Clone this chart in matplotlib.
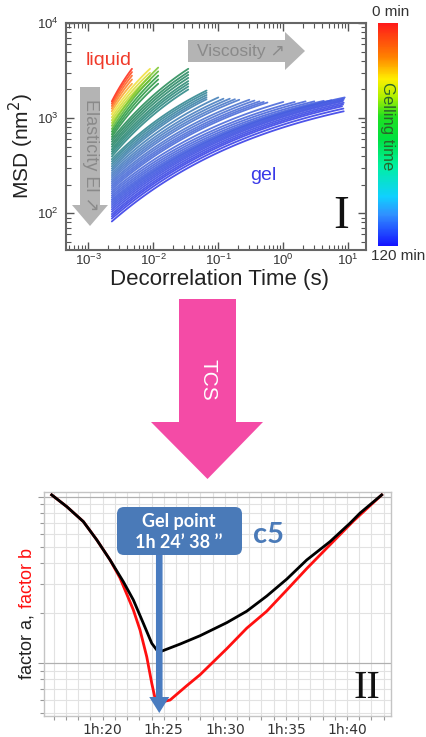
import numpy as np
import matplotlib
matplotlib.use('Agg')
import matplotlib.pyplot as plt
from matplotlib.colors import LinearSegmentedColormap, Normalize
from matplotlib.cm import ScalarMappable
from matplotlib.patches import Polygon, FancyBboxPatch
from matplotlib.ticker import LogLocator, NullFormatter, FixedLocator, FixedFormatter

plt.rcParams['font.family'] = ['Liberation Sans', 'DejaVu Sans']

# ---------------- Panel I data (MSD curves) ----------------
gel_time = [0, 2, 4, 6, 8,
            11, 13, 15, 17,
            20, 22, 24, 26, 28,
            31, 33, 35, 37, 39, 41, 43, 45,
            48, 50, 52, 54, 56,
            58, 60, 62, 64, 66,
            68, 70, 72, 74, 76,
            79, 82, 85, 88, 91, 94,
            97, 100, 103, 106, 109, 112, 115, 118, 120]
start_lag = 0.0023
start_msd = [1500, 1420, 1340, 1260, 1180,
             1100, 1020, 950, 890,
             830, 770, 720, 675, 635,
             600, 565, 530, 500, 470, 445, 420, 395,
             370, 350, 330, 312, 295,
             280, 265, 252, 240, 228,
             217, 207, 197, 188, 179,
             170, 162, 154, 147, 140, 134,
             128, 122, 116, 110, 104, 98, 93, 88, 82]
end_lag = [0.0047] * 5 + [0.0089] * 4 + [0.0119] * 5 + [0.0345] * 8 + [0.066] * 5 + \
          [0.10, 0.12, 0.15, 0.18, 0.21] + [0.30, 0.36, 0.43, 0.50, 0.57] + \
          [1.0, 1.5, 2.2, 3.0, 4.2, 5.5] + [8.8, 8.6, 8.4, 8.2, 8.5, 8.3, 8.0, 8.4, 8.5]
end_msd = [3300, 3050, 2800, 2550, 2300,
           3300, 3000, 2750, 2500,
           3400, 3100, 2800, 2550, 2300,
           3300, 3050, 2850, 2650, 2450, 2300, 2150, 2000,
           1950, 1850, 1750, 1660, 1580,
           1650, 1600, 1600, 1580, 1560,
           1560, 1530, 1500, 1480, 1460,
           1480, 1480, 1500, 1500, 1520, 1540,
           1650, 1600, 1550, 1500, 1450, 1390, 1330, 1260, 1180]

# ---------------- Panel II data ----------------
time_a = [75.83, 77.06, 78.42, 79.52, 80.61, 81.69, 82.51, 83.33, 84.02, 84.43, 84.70,
          86.33, 87.97, 90.16, 91.79, 93.43, 95.07, 96.70, 98.61, 100.25, 101.06, 102.84]
factor_a = [10.28, 8.74, 7.10, 5.51, 4.17, 3.09, 2.40, 1.734, 1.314, 1.198, 1.169,
            1.30, 1.46, 1.75, 2.05, 2.53, 3.20, 4.17, 5.38, 6.95, 7.98, 10.28]
time_b = [75.83, 77.06, 78.42, 79.52, 80.61, 81.42, 82.51, 83.06, 83.61, 84.02, 84.29, 84.45,
          85.52, 86.88, 87.97, 90.16, 91.79, 93.43, 95.07, 96.70, 98.61, 100.52, 102.84]
factor_b = [10.28, 8.74, 7.10, 5.51, 4.17, 3.25, 2.09, 1.58, 1.09, 0.755, 0.613, 0.574,
            0.599, 0.73, 0.85, 1.22, 1.62, 2.05, 2.75, 3.70, 5.15, 7.15, 10.28]
gel_point = 60 + 24 + 38 / 60.0  # 1h 24' 38''
x_ticks = [80, 85, 90, 95, 100]
x_tick_labels = ['1h:20', '1h:25', '1h:30', '1h:35', '1h:40']

W, H = 426, 737
fig = plt.figure(figsize=(W / 100, H / 100), dpi=100)


def rect(l, t, r, b):
    return [l / W, 1 - b / H, (r - l) / W, (b - t) / H]


# colormaps
curve_cmap = LinearSegmentedColormap.from_list('curves', [
    (0.0, '#ff3020'), (0.05, '#ff8a30'), (0.09, '#f0e040'), (0.15, '#a0d830'),
    (0.2, '#30a040'), (0.27, '#2a8a60'), (0.38, '#2f8a88'), (0.5, '#4a80c0'),
    (0.6, '#4f70d8'), (0.8, '#4660e0'), (1.0, '#3a40e8')])
bar_cmap = LinearSegmentedColormap.from_list('bar', [
    (0.0, '#ff1a1a'), (0.15, '#ff8000'), (0.25, '#ffee00'), (0.33, '#b0f000'),
    (0.42, '#20e020'), (0.52, '#00e040'), (0.64, '#00f0a0'), (0.78, '#10d0ff'),
    (0.86, '#3090ff'), (1.0, '#1414ff')])

# ---------------- Panel I ----------------
ax1 = fig.add_axes(rect(66, 23, 366, 250))
ax1.set_xscale('log')
ax1.set_yscale('log')
for t, m0, te, me in zip(gel_time, start_msd, end_lag, end_msd):
    ue = np.log10(te / start_lag)
    k = 0.3 + 0.3 * ue
    u = np.linspace(0, ue, 80)
    g = (1 - np.exp(-k * u / ue)) / (1 - np.exp(-k))
    y = np.log10(m0) + (np.log10(me) - np.log10(m0)) * g
    ax1.plot(start_lag * 10 ** u, 10 ** y, color=curve_cmap(t / 120.0), lw=1.3,
             alpha=0.9, solid_capstyle='round')
ax1.set_xlim(10 ** -3.343, 10 ** 1.272)
ax1.set_ylim(10 ** 1.614, 10 ** 4.0)
ax1.xaxis.set_major_locator(LogLocator(base=10, numticks=10))
ax1.xaxis.set_minor_locator(LogLocator(base=10, subs=np.arange(2, 10), numticks=20))
ax1.yaxis.set_major_locator(LogLocator(base=10, numticks=10))
ax1.yaxis.set_minor_locator(LogLocator(base=10, subs=np.arange(2, 10), numticks=20))
ax1.xaxis.set_minor_formatter(NullFormatter())
ax1.yaxis.set_minor_formatter(NullFormatter())
ax1.tick_params(which='both', direction='in', top=True, right=True, colors='#555555',
                labelcolor='#333333', labelsize=9.5)
ax1.tick_params(which='major', length=6, width=1.0)
ax1.tick_params(axis='x', which='major', pad=2)
ax1.tick_params(axis='y', which='major', pad=5)
ax1.tick_params(which='minor', length=3.5, width=0.8)
for s in ax1.spines.values():
    s.set_color('#666666')
    s.set_linewidth(1.5)

# colorbar
cax = fig.add_axes(rect(378, 23, 397.5, 246))
cb = fig.colorbar(ScalarMappable(norm=Normalize(0, 120), cmap=bar_cmap), cax=cax)
cax.invert_yaxis()
cb.outline.set_visible(False)
cax.set_yticks([])

# ---------------- Panel II ----------------
ax2 = fig.add_axes(rect(44, 492, 391, 716))
ax2.set_yscale('log')
ax2.set_xlim(75.2, 103.6)
ax2.set_ylim(0.48, 10.7)
ax2.xaxis.set_major_locator(FixedLocator(x_ticks))
ax2.xaxis.set_major_formatter(FixedFormatter(x_tick_labels))
ax2.xaxis.set_minor_locator(FixedLocator(np.arange(76, 104)))
ax2.yaxis.set_major_locator(FixedLocator([1, 10]))
ax2.yaxis.set_minor_locator(FixedLocator([0.5, 0.6, 0.7, 0.8, 0.9, 2, 3, 4, 5, 6, 7, 8, 9]))
ax2.yaxis.set_major_formatter(NullFormatter())
ax2.yaxis.set_minor_formatter(NullFormatter())
ax2.grid(which='minor', color='#e2e2e2', lw=0.8)
ax2.grid(which='major', axis='x', color='#e2e2e2', lw=0.8)
ax2.grid(which='major', axis='y', color='#b0b0b0', lw=0.9)
ax2.set_axisbelow(True)
ax2.tick_params(which='both', direction='out', colors='#999999', labelcolor='#333333',
                length=3, width=0.8)
ax2.tick_params(axis='x', which='major', pad=2)
ax2.tick_params(axis='y', which='major', length=4)
for lab in ax2.get_xticklabels():
    lab.set_family('DejaVu Sans')
    lab.set_fontsize(10)
for s in ax2.spines.values():
    s.set_color('#c4c4c4')
    s.set_linewidth(1.0)
ax2.plot(time_a, factor_a, color='black', lw=2.0, zorder=3)
ax2.plot(time_b, factor_b, color='#ff1010', lw=2.0, zorder=2)

# ---------------- Overlay (annotations in pixel coordinates) ----------------
ov = fig.add_axes([0, 0, 1, 1], zorder=10)
ov.set_xlim(0, W)
ov.set_ylim(H, 0)
ov.axis('off')

gray = '#b4b4b4'
ov.add_patch(Polygon([(188, 40), (285, 40), (285, 32), (305, 51), (285, 70), (285, 62), (188, 62)],
                     closed=True, color=gray, lw=0))
ov.text(241, 51, 'Viscosity \u2197', ha='center', va='center', fontsize=12.5, color='#8a8a8a',
        family=['Liberation Sans', 'DejaVu Sans'])
ov.add_patch(Polygon([(80, 87), (100, 87), (100, 205), (108, 205), (90, 226), (72, 205), (80, 205)],
                     closed=True, color=gray, lw=0))
ov.text(90, 155, 'Elasticity El \u2197', ha='center', va='center', fontsize=13, color='#8a8a8a',
        rotation=-90, family=['Liberation Sans', 'DejaVu Sans'])

ov.text(109, 60, 'liquid', ha='center', va='center', fontsize=14, color='#f03a2a')
ov.text(263, 175, 'gel', ha='center', va='center', fontsize=14, color='#3a3ae8')
ov.text(341, 217, 'I', ha='center', va='center', fontsize=34, family='Liberation Serif', color='#111111')
ov.text(21, 146, 'MSD (nm$^2$)', ha='center', va='center', fontsize=15, rotation=90, color='#222222')
ov.text(220, 279, 'Decorrelation Time (s)', ha='center', va='center', fontsize=16, color='#222222')
ov.text(391, 12, '0 min', ha='center', va='center', fontsize=11, color='#333333')
ov.text(398, 256, '120 min', ha='center', va='center', fontsize=11, color='#333333')
ov.text(388, 126, 'Gelling time', ha='center', va='center', fontsize=12, rotation=-90, color='#2a662a')

# TCS arrow
ov.add_patch(Polygon([(179, 299), (236, 299), (236, 422), (263, 422), (207.5, 479), (151, 422), (179, 422)],
                     closed=True, color='#f44ba6', lw=0))
ov.text(208, 380, 'TCS', ha='center', va='center', fontsize=15, rotation=-90, color='white')

# Panel II annotations
ov.text(27, 647, 'factor a,', ha='center', va='center', fontsize=13, rotation=90, color='#222222')
ov.text(27, 578, 'factor b', ha='center', va='center', fontsize=13, rotation=90, color='#ff1010')

blue = '#4a7ab8'
gx = ax2.transData.transform((gel_point, 1.0))[0]
ov.add_patch(Polygon([(gx - 3.3, 555), (gx + 3.3, 555), (gx + 3.3, 697), (gx + 10, 697), (gx, 713),
                      (gx - 10, 697), (gx - 3.3, 697)], closed=True, color='#4a7cc0', lw=0))
ov.add_patch(FancyBboxPatch((117, 507), 125, 48, boxstyle='round,pad=0,rounding_size=7',
                            color=blue, lw=0))
ov.text(179, 522, 'Gel point', ha='center', va='center', fontsize=13, color='white',
        weight='bold', family=['Lato', 'DejaVu Sans'])
ov.text(179, 543, '1h 24\u2019 38 \u2019\u2019', ha='center', va='center', fontsize=13, color='white',
        weight='bold', family=['Lato', 'DejaVu Sans'])
ov.text(268, 535, 'c5', ha='center', va='center', fontsize=21, color=blue, weight='bold',
        family=['Lato', 'DejaVu Sans'])
ov.text(367, 689, 'II', ha='center', va='center', fontsize=29, family='Liberation Serif', color='#111111')

fig.savefig('out.png', dpi=100)
